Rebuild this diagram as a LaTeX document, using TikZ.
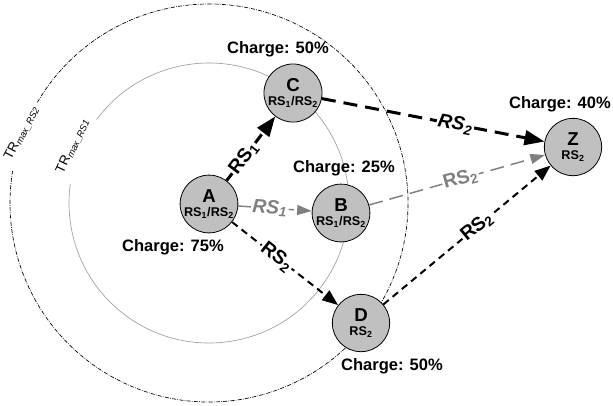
\documentclass[tikz,border=0pt]{standalone}
\usepackage{fontspec}
\setmainfont{Liberation Sans}
\usetikzlibrary{arrows.meta}

\definecolor{nodegray}{RGB}{192,192,192}
\definecolor{linegray}{RGB}{128,128,128}
\definecolor{ringgray}{RGB}{160,160,160}

\newcommand{\stn}[2]{{\fontsize{14}{14}\selectfont\bfseries #1}\\[-1pt]{\fontsize{9.5}{10}\selectfont\bfseries #2}}

\begin{document}
\begin{tikzpicture}
    [
        x=0.75pt, y=-0.75pt,
        station/.style={circle, draw, fill=nodegray, line width=0.6pt, minimum size=43pt, inner sep=0pt, align=center},
        charge/.style={font=\fontsize{12.4}{14}\selectfont\bfseries, inner sep=1pt},
        rlabel/.style={font=\fontsize{14.5}{16}\selectfont\bfseries, fill=white, inner sep=1pt, sloped},
        trlabel/.style={font=\fontsize{10}{11}\selectfont, inner sep=1pt},
        bigdash/.style={line width=2.25pt, dash pattern=on 10.5pt off 6pt, -{Triangle[length=15pt, width=11pt]}},
        smalldash/.style={line width=1.5pt, dash pattern=on 5.25pt off 3.75pt, -{Triangle[length=12pt, width=9pt]}},
        graydash/.style={line width=1.1pt, linegray, dash pattern=on 10.5pt off 5.25pt, -{Triangle[length=11pt, width=7.5pt]}},
    ]
    \useasboundingbox (0,0) rectangle (613,405);

    % ranges round A
    \coordinate (ctr) at (209,203);
    \draw[ringgray, line width=0.5pt] (ctr) ++(216.6:140) arc[start angle=216.6, end angle=547.9, radius=140];
    \draw[line width=0.5pt, dash pattern=on 3pt off 1pt on 0.5pt off 1pt] (ctr) ++(210.4:199) arc[start angle=210.4, end angle=549.2, radius=199];
    \node (trone) at (73,146) [trlabel, rotate=65] {TR\textsubscript{\itshape max\_RS1}};
    \node (trtwo) at (22,133) [trlabel, rotate=63] {TR\textsubscript{\itshape max\_RS2}};

    % stations
    \node (A) at (209,204) [station] {\stn{A}{RS\textsubscript{1}/RS\textsubscript{2}}};
    \node (B) at (341,213) [station] {\stn{B}{RS\textsubscript{1}/RS\textsubscript{2}}};
    \node (C) at (293,93) [station] {\stn{C}{RS\textsubscript{1}/RS\textsubscript{2}}};
    \node (D) at (361,323) [station] {\stn{D}{RS\textsubscript{2}}};
    \node (Z) at (573,147) [station] {\stn{Z}{RS\textsubscript{2}}};

    \node (chA) at (173,247) [charge] {Charge: 75\%};
    \node (chB) at (344,168) [charge] {Charge: 25\%};
    \node (chC) at (278,49) [charge] {Charge: 50\%};
    \node (chD) at (392,366) [charge] {Charge: 50\%};
    \node (chZ) at (560,104) [charge] {Charge: 40\%};

    % links
    \draw[bigdash] (A) -- node[rlabel, pos=0.35] {RS\textsubscript{1}} (C);
    \draw[graydash] (A) -- node[rlabel, pos=0.43, text=linegray] {\itshape RS\textsubscript{1}} (B);
    \draw[smalldash] (A) -- node[rlabel, pos=0.42] {RS\textsubscript{2}} (D);
    \draw[bigdash] (C) -- node[rlabel, pos=0.6] {\itshape RS\textsubscript{2}} (Z);
    \draw[graydash] (B) -- node[rlabel, pos=0.52, text=linegray] {RS\textsubscript{2}} (Z);
    \draw[smalldash] (D) -- node[rlabel, pos=0.56] {RS\textsubscript{2}} (Z);
\end{tikzpicture}
\end{document}
